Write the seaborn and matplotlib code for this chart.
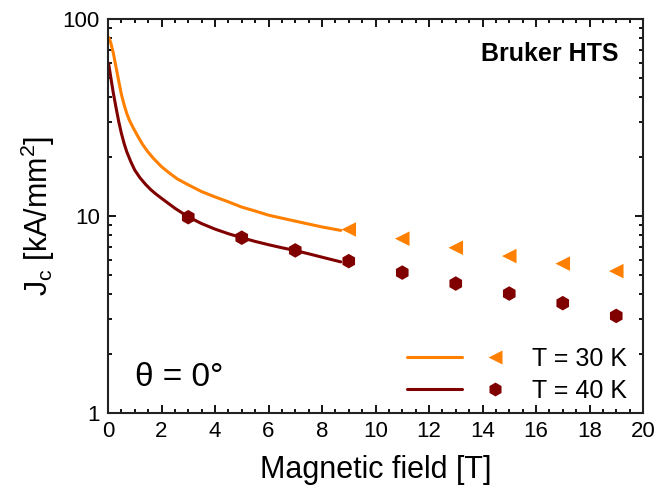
import matplotlib
matplotlib.use("Agg")
import matplotlib.pyplot as plt
import seaborn as sns
import pandas as pd
from matplotlib.ticker import FuncFormatter, MultipleLocator, LogLocator, NullFormatter
from matplotlib.lines import Line2D
from matplotlib.legend_handler import HandlerTuple

# ---- data ----
fit30_field = [0.02, 0.1, 0.2, 0.3, 0.4, 0.5, 0.6, 0.7, 0.8, 0.95, 1.1, 1.3, 1.5, 1.7, 2.0, 2.3, 2.6, 3.0,
               3.5, 4.0, 4.5, 5.0, 5.5, 6.0, 6.5, 7.0, 7.5, 8.0, 8.7]
fit30_jc = [80.8, 76.0, 67.0, 57.0, 48.5, 41.5, 36.8, 33.2, 30.6, 27.9, 25.6, 23.0, 21.1, 19.6, 17.8, 16.5, 15.4, 14.4,
            13.3, 12.5, 11.8, 11.1, 10.6, 10.1, 9.75, 9.42, 9.1, 8.8, 8.45]
fit40_field = [0.02, 0.1, 0.2, 0.3, 0.4, 0.5, 0.6, 0.7, 0.85, 1.0, 1.2, 1.4, 1.6, 1.8, 2.0, 2.5, 3.0,
               3.5, 4.0, 4.5, 5.0, 5.5, 6.0, 6.5, 7.0, 7.5, 8.0, 8.7]
fit40_jc = [59.7, 51.0, 42.0, 35.5, 30.2, 26.3, 23.4, 21.2, 18.9, 17.1, 15.6, 14.5, 13.6, 12.9, 12.3, 10.95, 9.9,
            9.15, 8.58, 8.13, 7.76, 7.43, 7.15, 6.9, 6.68, 6.43, 6.18, 5.85]
pts30_field = [9, 11, 13, 15, 17, 19]
pts30_jc = [8.54, 7.67, 6.90, 6.26, 5.73, 5.25]
pts40_field = [3, 5, 7, 9, 11, 13, 15, 17, 19]
pts40_jc = [9.86, 7.76, 6.69, 5.90, 5.16, 4.54, 4.04, 3.61, 3.11]
labels = ["T = 30 K", "T = 40 K"]

c30 = "#FF8000"
c40 = "#800000"

sns.set_theme(style="ticks")
plt.rcParams["font.family"] = ["Liberation Sans", "DejaVu Sans"]
plt.rcParams["mathtext.fontset"] = "custom"
plt.rcParams["mathtext.rm"] = "Liberation Sans"
for k in ["text.color", "axes.labelcolor", "xtick.color", "ytick.color"]:
    plt.rcParams[k] = "black"

fig, ax = plt.subplots(figsize=(6.72, 4.95), dpi=100)
fig.subplots_adjust(left=108/672, right=643/672, top=1-19/495, bottom=1-413/495)

df30 = pd.DataFrame({"B": fit30_field, "J": fit30_jc})
df40 = pd.DataFrame({"B": fit40_field, "J": fit40_jc})
sns.lineplot(data=df30, x="B", y="J", ax=ax, color=c30, lw=2.2, sort=False)
sns.lineplot(data=df40, x="B", y="J", ax=ax, color=c40, lw=2.2, sort=False)
sns.scatterplot(x=pts30_field, y=pts30_jc, ax=ax, marker="<", s=110, color=c30, edgecolor="none", zorder=5)
sns.scatterplot(x=pts40_field, y=pts40_jc, ax=ax, marker="h", s=110, color=c40, edgecolor="none", zorder=5)

ax.set_yscale("log")
ax.set_xlim(0, 20)
ax.set_ylim(1, 100)
ax.xaxis.set_major_locator(MultipleLocator(2))
ax.xaxis.set_minor_locator(MultipleLocator(0.5))
ax.yaxis.set_major_formatter(FuncFormatter(lambda v, _: f"{v:g}"))
ax.yaxis.set_minor_locator(LogLocator(base=10, subs=range(2, 10)))
ax.yaxis.set_minor_formatter(NullFormatter())
ax.tick_params(which="both", direction="in", top=True, right=True, width=1.3)
ax.tick_params(which="major", length=6, labelsize=16, pad=6)
ax.tick_params(which="minor", length=3)
for s in ax.spines.values():
    s.set_linewidth(1.5)
    s.set_color("#222222")

ax.set_xlabel("Magnetic field [T]", fontsize=22, labelpad=9)
ax.set_ylabel(r"J$_\mathregular{c}$ [kA/mm$^\mathregular{2}$]", fontsize=22, labelpad=4)

ax.text(0.955, 0.91, "Bruker HTS", transform=ax.transAxes, ha="right", va="center",
        fontsize=18, fontweight="bold")
ax.text(0.05, 0.09, "θ = 0°", transform=ax.transAxes, ha="left", va="center", fontsize=24)

h30 = (Line2D([], [], color=c30, lw=2.2), Line2D([], [], color=c30, marker="<", ls="none", ms=10, mec="none"))
h40 = (Line2D([], [], color=c40, lw=2.2), Line2D([], [], color=c40, marker="h", ls="none", ms=10, mec="none"))
ax.legend([h30, h40], labels, handler_map={tuple: HandlerTuple(ndivide=None, pad=0.22)},
          loc="lower right", bbox_to_anchor=(1.0, -0.015), frameon=False, fontsize=18,
          handlelength=4.62, handletextpad=0.38, labelspacing=0.32, borderpad=0.15)

fig.savefig("out.png", dpi=100)
